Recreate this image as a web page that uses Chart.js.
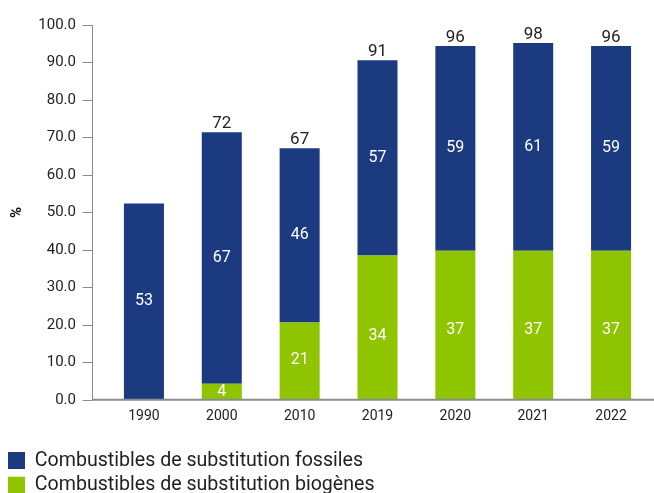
<!DOCTYPE html>
<html>
<head>
<meta charset="utf-8">
<script src="https://cdn.jsdelivr.net/npm/chart.js@4"></script>
<style>
  html, body { margin: 0; padding: 0; background: #fff; overflow: hidden; }
  #wrap { width: 654px; height: 505px; }
</style>
</head>
<body>
<div id="wrap"><canvas id="chart"></canvas></div>
<script>
// années
const years = ['1990', '2000', '2010', '2019', '2020', '2021', '2022'];
// hauteurs des barres (%)
const fossiles = [52.4, 67.1, 46.5, 52.1, 54.6, 55.4, 54.6];
const biogenes = [0, 4.3, 20.6, 38.5, 39.8, 39.8, 39.8];
// étiquettes imprimées sur les barres
const labelsFossiles = ['53', '67', '46', '57', '59', '61', '59'];
const labelsBiogenes = ['', '4', '21', '34', '37', '37', '37'];
const labelsTotal = ['', '72', '67', '91', '96', '98', '96'];

const BLEU = '#1c3a80';
const VERT = '#8fc400';
const FONT = 'Roboto';

// axes dessinés à gauche de la zone des barres
const axisLines = {
    id: 'axisLines',
    afterDatasetsDraw(chart) {
        const { ctx, chartArea, scales: { y } } = chart;
        const ax = Math.round(chartArea.left - 13) + 0.5;
        ctx.save();
        ctx.strokeStyle = '#8c8c8c';
        ctx.lineWidth = 1;
        ctx.beginPath();
        ctx.moveTo(ax, y.getPixelForValue(100));
        ctx.lineTo(ax, chartArea.bottom);
        y.ticks.forEach(t => {
            const py = Math.round(y.getPixelForValue(t.value)) + 0.5;
            ctx.moveTo(ax - 10, py);
            ctx.lineTo(ax, py);
        });
        ctx.stroke();
        ctx.lineWidth = 2;
        ctx.beginPath();
        ctx.moveTo(ax - 0.5, chartArea.bottom);
        ctx.lineTo(chart.width, chartArea.bottom);
        ctx.stroke();
        ctx.restore();
    }
};

// valeurs dans et au-dessus des barres
const valueLabels = {
    id: 'valueLabels',
    afterDatasetsDraw(chart) {
        const { ctx, scales: { y: ys } } = chart;
        ctx.save();
        ctx.textAlign = 'center';
        ctx.textBaseline = 'middle';
        ctx.fillStyle = '#ffffff';
        ctx.font = '16px ' + FONT;
        // vert : au milieu de la valeur imprimée
        chart.getDatasetMeta(0).data.forEach((bar, i) => {
            const txt = labelsBiogenes[i];
            if (!txt) return;
            ctx.fillText(txt, bar.x, ys.getPixelForValue(Number(txt) / 2));
        });
        // bleu : au milieu du segment
        chart.getDatasetMeta(1).data.forEach((bar, i) => {
            const txt = labelsFossiles[i];
            if (!txt) return;
            const { x, y, base } = bar.getProps(['x', 'y', 'base'], true);
            ctx.fillText(txt, x, (y + base) / 2);
        });
        ctx.fillStyle = '#222222';
        ctx.font = '17px ' + FONT;
        ctx.textBaseline = 'alphabetic';
        chart.getDatasetMeta(1).data.forEach((bar, i) => {
            if (!labelsTotal[i]) return;
            ctx.fillText(labelsTotal[i], bar.x, bar.y - 4);
        });
        ctx.restore();
    }
};

new Chart(document.getElementById('chart'), {
    type: 'bar',
    data: {
        labels: years,
        datasets: [
            {
                label: 'Combustibles de substitution biogènes',
                data: biogenes,
                backgroundColor: VERT,
                borderWidth: 0,
                categoryPercentage: 1,
                barPercentage: 0.514
            },
            {
                label: 'Combustibles de substitution fossiles',
                data: fossiles,
                backgroundColor: BLEU,
                borderWidth: 0,
                categoryPercentage: 1,
                barPercentage: 0.514
            }
        ]
    },
    options: {
        responsive: true,
        maintainAspectRatio: false,
        animation: false,
        layout: { padding: { top: 25, right: 4, left: 3, bottom: 0 } },
        plugins: {
            tooltip: { enabled: false },
            legend: {
                position: 'bottom',
                align: 'start',
                reverse: true,
                labels: {
                    font: { family: FONT, size: 19.6 },
                    color: '#222222',
                    boxWidth: 17,
                    boxHeight: 17,
                    padding: 5
                }
            }
        },
        scales: {
            x: {
                stacked: true,
                grid: { display: false, drawTicks: false },
                border: { display: false },
                ticks: { font: { family: FONT, size: 14 }, color: '#222222', padding: 8 },
                afterFit: s => { s.height = 46; }
            },
            y: {
                stacked: true,
                min: 0,
                max: 100,
                // marques invisibles : l'axe visible est tracé par axisLines
                grid: { drawOnChartArea: false, color: 'rgba(0,0,0,0)', tickLength: 29 },
                border: { display: false },
                ticks: {
                    stepSize: 10,
                    padding: 0,
                    font: { family: FONT, size: 15 },
                    color: '#222222',
                    callback: v => v.toFixed(1)
                },
                title: {
                    display: true,
                    text: '%',
                    font: { family: FONT, size: 15, weight: 'bold' },
                    color: '#111111',
                    padding: { top: 5, bottom: 0 }
                },
                afterFit: s => { s.width = 102; }
            }
        }
    },
    plugins: [axisLines, valueLabels]
});
</script>
</body>
</html>
